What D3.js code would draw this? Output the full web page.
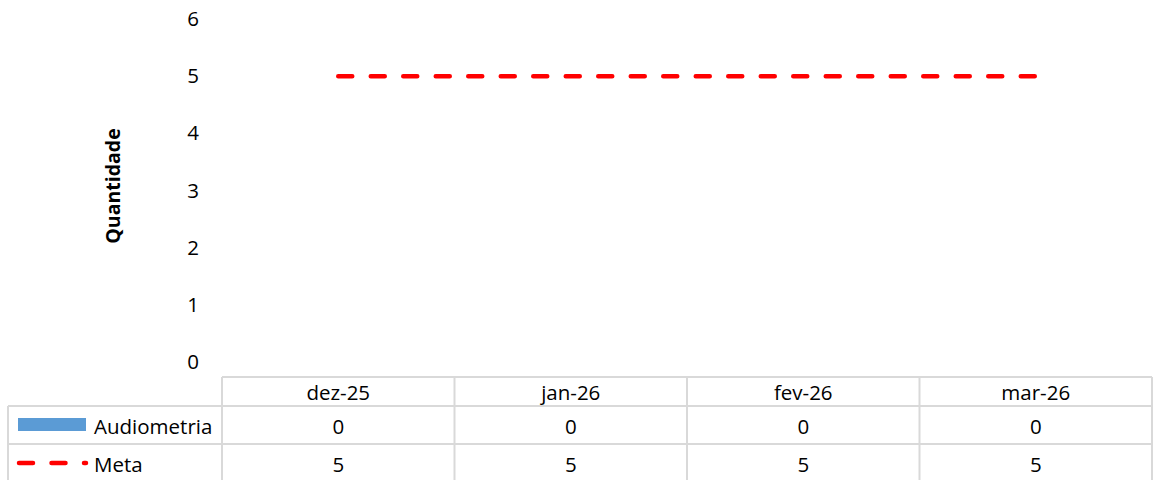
<!DOCTYPE html>
<html>
<head>
<meta charset="utf-8">
<script src="https://cdn.jsdelivr.net/npm/d3@7"></script>
<style>
  html, body { margin: 0; padding: 0; background: #fff; }
  svg { display: block; }
  text { font-family: "Open Sans", "Noto Sans", sans-serif; fill: #000; }
</style>
</head>
<body>
<svg id="chart" width="1154" height="480"></svg>
<script>
// Monthly categories and series
const months = ["dez-25", "jan-26", "fev-26", "mar-26"];
const audiometria = [0, 0, 0, 0];
const meta = [5, 5, 5, 5];
const yTicks = [0, 1, 2, 3, 4, 5, 6];

const svg = d3.select("#chart");
const fs = 20.5;

const plotLeft = 222, plotRight = 1152;
const x = d3.scaleBand().domain(months).range([plotLeft, plotRight]).paddingInner(0).paddingOuter(0);
const y = d3.scaleLinear().domain([0, 6]).range([362, 19]);

// Y axis (labels only)
const yAxis = d3.axisLeft(y).tickValues(yTicks).tickSize(0).tickPadding(0).tickFormat(d3.format("d"));
const gy = svg.append("g").attr("transform", "translate(199,0)").call(yAxis);
gy.select(".domain").remove();
gy.selectAll("text").attr("font-size", fs).attr("font-family", "'Open Sans', sans-serif").attr("fill", "#000");

// Axis title
svg.append("text")
  .attr("transform", "translate(113,186) rotate(-90)")
  .attr("text-anchor", "middle")
  .attr("dy", "0.35em")
  .attr("font-size", 19.5)
  .attr("font-weight", "bold")
  .text("Quantidade");

// Audiometria bars (zero height)
svg.append("g").selectAll("rect").data(audiometria).join("rect")
  .attr("x", (d, i) => x(months[i]) + x.bandwidth() * 0.25)
  .attr("width", x.bandwidth() * 0.5)
  .attr("y", d => y(d))
  .attr("height", d => y(0) - y(d))
  .attr("fill", "#5B9BD5");

// Meta dashed line
const line = d3.line()
  .x((d, i) => x(months[i]) + x.bandwidth() / 2)
  .y(d => y(d));
svg.append("path")
  .datum(meta)
  .attr("d", line)
  .attr("fill", "none")
  .attr("stroke", "#FF0000")
  .attr("stroke-width", 4.5)
  .attr("stroke-linecap", "round")
  .attr("stroke-dasharray", "14,18.5");

// Data table
const tTop = 377, r1 = 406, r2 = 444, r3 = 482, tLeft = 8;
const grid = svg.append("g").attr("stroke", "#D9D9D9").attr("stroke-width", 2).attr("fill", "none");
grid.append("line").attr("x1", plotLeft).attr("x2", plotRight).attr("y1", tTop).attr("y2", tTop);
[r1, r2, r3].forEach(yy => grid.append("line").attr("x1", tLeft).attr("x2", plotRight).attr("y1", yy).attr("y2", yy));
grid.append("line").attr("x1", tLeft).attr("x2", tLeft).attr("y1", r1).attr("y2", r3);
months.forEach(m => grid.append("line").attr("x1", x(m)).attr("x2", x(m)).attr("y1", tTop).attr("y2", r3));
grid.append("line").attr("x1", plotRight).attr("x2", plotRight).attr("y1", tTop).attr("y2", r3);

// Header row
svg.append("g").selectAll("text").data(months).join("text")
  .attr("x", d => x(d) + x.bandwidth() / 2)
  .attr("y", (tTop + r1) / 2 + 1)
  .attr("dy", "0.35em")
  .attr("text-anchor", "middle")
  .attr("font-size", fs)
  .text(d => d);

// Series rows
const rows = [
  { name: "Audiometria", values: audiometria, top: r1, bottom: r2 },
  { name: "Meta", values: meta, top: r2, bottom: r3 }
];
rows.forEach(r => {
  const cy = (r.top + r.bottom) / 2 + 2;
  svg.append("g").selectAll("text").data(r.values).join("text")
    .attr("x", (d, i) => x(months[i]) + x.bandwidth() / 2)
    .attr("y", cy)
    .attr("dy", "0.35em")
    .attr("text-anchor", "middle")
    .attr("font-size", fs)
    .text(d => d);
  svg.append("text")
    .attr("x", 94)
    .attr("y", cy)
    .attr("dy", "0.35em")
    .attr("font-size", fs)
    .text(r.name);
});

// Legend keys
const cyA = (r1 + r2) / 2, cyM = (r2 + r3) / 2;
svg.append("rect").attr("x", 18).attr("y", cyA - 7).attr("width", 68).attr("height", 13).attr("fill", "#5B9BD5");
svg.append("line")
  .attr("x1", 19).attr("x2", 86).attr("y1", cyM).attr("y2", cyM)
  .attr("stroke", "#FF0000").attr("stroke-width", 4.5)
  .attr("stroke-linecap", "round").attr("stroke-dasharray", "14,18.5");
</script>
</body>
</html>
